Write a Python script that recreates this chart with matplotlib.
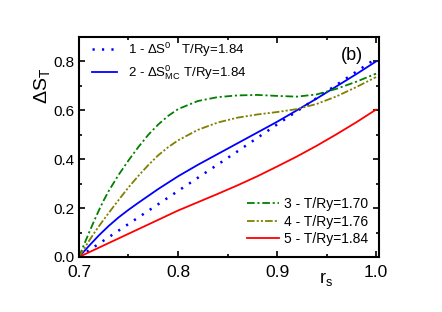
import numpy as np
import matplotlib
matplotlib.use('Agg')
import matplotlib.pyplot as plt
from matplotlib.ticker import MultipleLocator, FormatStrFormatter

plt.rcParams['font.family'] = ['Liberation Sans', 'DejaVu Sans']
plt.rcParams['mathtext.fontset'] = 'custom'
plt.rcParams['mathtext.rm'] = 'Liberation Sans'
plt.rcParams['mathtext.it'] = 'Liberation Sans:italic'
plt.rcParams['lines.scale_dashes'] = False

# curves
rs = [0.70, 0.705, 0.71, 0.715, 0.72, 0.725, 0.73, 0.74, 0.75, 0.76, 0.77, 0.78, 0.79,
      0.80, 0.82, 0.84, 0.86, 0.88, 0.90, 0.92, 0.94, 0.96, 0.98, 1.00]
s_green = [0.0, 0.05, 0.098, 0.145, 0.19, 0.232, 0.27, 0.336, 0.395, 0.45, 0.5, 0.542, 0.577,
           0.605, 0.638, 0.654, 0.661, 0.663, 0.659, 0.656, 0.665, 0.688, 0.717, 0.750]
s_olive = [0.0, 0.033, 0.065, 0.096, 0.125, 0.153, 0.18, 0.233, 0.285, 0.332, 0.376, 0.416, 0.449,
           0.477, 0.52, 0.55, 0.57, 0.583, 0.593, 0.605, 0.626, 0.657, 0.695, 0.736]

rs_b = [0.70, 0.71, 0.72, 0.73, 0.74, 0.75, 0.76, 0.77, 0.78, 0.79, 0.80, 0.82, 0.84,
        0.86, 0.88, 0.90, 0.92, 0.94, 0.96, 0.98, 1.00]
s_mc = [0.0, 0.045, 0.088, 0.127, 0.162, 0.193, 0.222, 0.25, 0.278, 0.304, 0.33, 0.377, 0.421,
        0.465, 0.509, 0.553, 0.600, 0.648, 0.698, 0.748, 0.80]
s_0 = [0.0, 0.027, 0.054, 0.081, 0.108, 0.135, 0.162, 0.189, 0.216, 0.243, 0.27, 0.324, 0.378,
       0.432, 0.487, 0.542, 0.596, 0.65, 0.704, 0.758, 0.812]
s_red = [0.0, 0.019, 0.038, 0.057, 0.076, 0.095, 0.114, 0.133, 0.152, 0.171, 0.19, 0.224, 0.258,
         0.293, 0.33, 0.37, 0.411, 0.455, 0.502, 0.551, 0.603]

fig = plt.figure(figsize=(4.42, 3.12), dpi=100)
ax = fig.add_axes([0.1787, 0.1763, 0.6788, 0.7051])

lw = 1.3
l1, = ax.plot(rs_b, s_0, color='#0000ff', lw=1.8, dashes=(1.6, 5.2),
              label='1 - ΔS$^{\\rm 0}$   T/Ry=1.84')
l2, = ax.plot(rs_b, s_mc, color='#0000ff', lw=lw,
              label='2 - ΔS$^{\\rm 0}_{\\rm MC}$ T/Ry=1.84')
l3, = ax.plot(rs, s_green, color='#008000', lw=lw, dashes=(5.5, 2, 1.5, 2),
              label='3 - T/Ry=1.70')
l4, = ax.plot(rs, s_olive, color='#808000', lw=lw, dashes=(5.5, 1.5, 1.5, 1.5, 1.5, 1.5),
              label='4 - T/Ry=1.76')
l5, = ax.plot(rs_b, s_red, color='#ff0000', lw=lw, label='5 - T/Ry=1.84')

ax.set_xlim(0.7, 1.003)
ax.set_ylim(0.0, 0.9)
ax.xaxis.set_major_locator(MultipleLocator(0.1))
ax.xaxis.set_minor_locator(MultipleLocator(0.05))
ax.yaxis.set_major_locator(MultipleLocator(0.2))
ax.yaxis.set_minor_locator(MultipleLocator(0.1))
ax.xaxis.set_major_formatter(FormatStrFormatter('%.1f'))
ax.yaxis.set_major_formatter(FormatStrFormatter('%.1f'))
ax.tick_params(which='both', direction='in', top=True, right=True, width=1.2)
ax.tick_params(which='major', length=4.5)
ax.tick_params(which='minor', length=2.5)
ax.tick_params(axis='x', labelsize=12.5, pad=6)
ax.tick_params(axis='y', labelsize=11, pad=3.5)
for sp in ax.spines.values():
    sp.set_linewidth(1.5)

ax.set_ylabel('ΔS$_{\\rm T}$', fontsize=14)
ax.yaxis.set_label_coords(-0.09, 0.78)
ax.set_xlabel('r$_{\\rm s}$', fontsize=13)
ax.xaxis.set_label_coords(0.823, -0.06)

ax.text(0.91, 0.914, '(b)', fontsize=13, ha='center', va='center', transform=ax.transAxes)

leg1 = ax.legend(handles=[l1, l2], loc='upper left', bbox_to_anchor=(0.043, 0.985),
                 frameon=False, fontsize=9.5, handlelength=1.9, handletextpad=0.85,
                 borderaxespad=0, borderpad=0, labelspacing=0.35)
ax.add_artist(leg1)
ax.legend(handles=[l3, l4, l5], loc='lower right', bbox_to_anchor=(0.963, 0.05),
          frameon=False, fontsize=10, handlelength=2.3, handletextpad=0.35,
          borderaxespad=0, borderpad=0, labelspacing=0.25)

fig.savefig('out.png', dpi=100)
